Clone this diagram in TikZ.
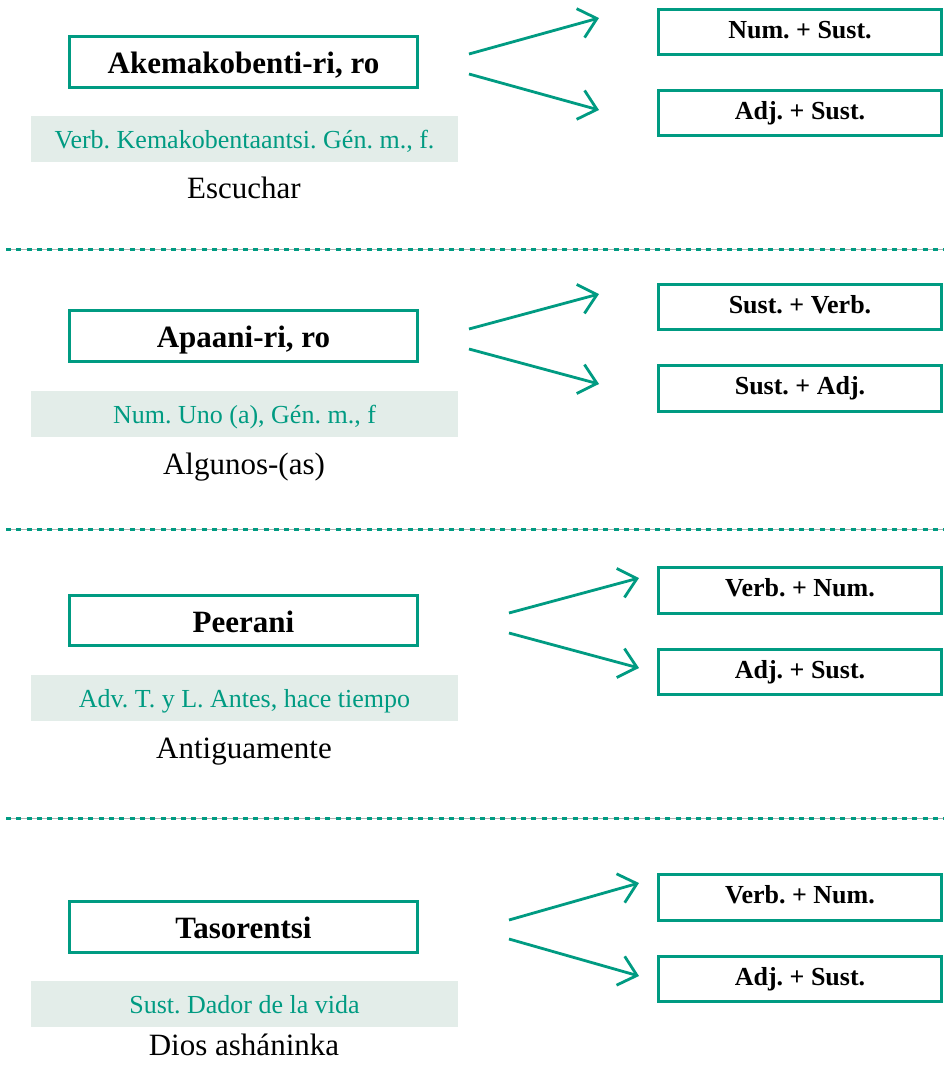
\documentclass[tikz,border=0pt]{standalone}
\usepackage{fontspec}
\setmainfont{Liberation Serif}
\usetikzlibrary{arrows.meta}
\definecolor{teal1}{RGB}{0,155,130}
\definecolor{bandgray}{RGB}{227,237,233}
\definecolor{sepgray}{RGB}{175,175,175}
\frenchspacing
\begin{document}
\begin{tikzpicture}[x=1pt,y=-1pt,
  headbox/.style={draw=teal1, line width=3.2pt, minimum width=347.5pt, minimum height=50.5pt,
    inner sep=0pt, font=\fontsize{31}{36}\selectfont\bfseries, text height=27pt, text depth=4pt},
  combobox/.style={draw=teal1, line width=2.8pt, minimum width=283pt, minimum height=45.5pt,
    inner sep=0pt, font=\fontsize{26}{30}\selectfont\bfseries, text height=20pt, text depth=8pt},
  gramband/.style={fill=bandgray, minimum width=427pt, minimum height=46pt, inner sep=0pt,
    text=teal1, font=\fontsize{26}{30}\selectfont, text height=22pt, text depth=4pt},
  meaning/.style={anchor=base, inner sep=0pt, font=\fontsize{31}{36}\selectfont},
  arr/.style={draw=teal1, line width=2.8pt, -{Straight Barb[length=17pt,width=30pt]}},
  sepline/.style={draw=sepgray, line width=0.8pt},
  sepdash/.style={draw=teal1, line width=3pt, dash pattern=on 5pt off 5.3pt}
]
\fill[white] (0,0) rectangle (944,1069);
\useasboundingbox (0,0) rectangle (944,1069);

% separators
\foreach \yy in {249,529,818}{
  \draw[sepline] (6,\yy) -- (944,\yy);
  \draw[sepdash] (6,\yy) -- (944,\yy);
}

% ---------- Section 1
\node[headbox] (m1) at (243.5,62) {Akemakobenti-ri, ro};
\node[gramband] (g1) at (244.5,139) {Verb. Kemakobentaantsi. Gén. m., f.};
\node[meaning] (t1) at (244,198) {Escuchar};
\node[combobox] (r1a) at (800,32) {Num. + Sust.};
\node[combobox] (r1b) at (800,113) {Adj. + Sust.};
\coordinate (s1a) at (469,54);  \coordinate (e1a) at (599,18);
\coordinate (s1b) at (469,74);  \coordinate (e1b) at (599,110);
\draw[arr] (s1a) -- (e1a);
\draw[arr] (s1b) -- (e1b);

% ---------- Section 2
\node[headbox] (m2) at (243.5,336) {Apaani-ri, ro};
\node[gramband] (g2) at (244.5,414) {Num. Uno (a), Gén. m., f};
\node[meaning] (t2) at (244,474) {Algunos-(as)};
\node[combobox] (r2a) at (800,307) {Sust. + Verb.};
\node[combobox] (r2b) at (800,388.5) {Sust. + Adj.};
\coordinate (s2a) at (469,329); \coordinate (e2a) at (599,294);
\coordinate (s2b) at (469,349); \coordinate (e2b) at (599,384);
\draw[arr] (s2a) -- (e2a);
\draw[arr] (s2b) -- (e2b);

% ---------- Section 3
\node[headbox] (m3) at (243.5,620.5) {Peerani};
\node[gramband] (g3) at (244.5,698) {Adv. T. y L. Antes, hace tiempo};
\node[meaning] (t3) at (244,758) {Antiguamente};
\node[combobox] (r3a) at (800,590.5) {Verb. + Num.};
\node[combobox] (r3b) at (800,672) {Adj. + Sust.};
\coordinate (s3a) at (509,613); \coordinate (e3a) at (639,578);
\coordinate (s3b) at (509,633); \coordinate (e3b) at (639,668);
\draw[arr] (s3a) -- (e3a);
\draw[arr] (s3b) -- (e3b);

% ---------- Section 4
\node[headbox] (m4) at (243.5,927) {Tasorentsi};
\node[gramband] (g4) at (244.5,1004) {Sust. Dador de la vida};
\node[meaning] (t4) at (244,1055) {Dios asháninka};
\node[combobox] (r4a) at (800,897.5) {Verb. + Num.};
\node[combobox] (r4b) at (800,979) {Adj. + Sust.};
\coordinate (s4a) at (509,920); \coordinate (e4a) at (639,883);
\coordinate (s4b) at (509,939); \coordinate (e4b) at (639,976);
\draw[arr] (s4a) -- (e4a);
\draw[arr] (s4b) -- (e4b);
\end{tikzpicture}
\end{document}
